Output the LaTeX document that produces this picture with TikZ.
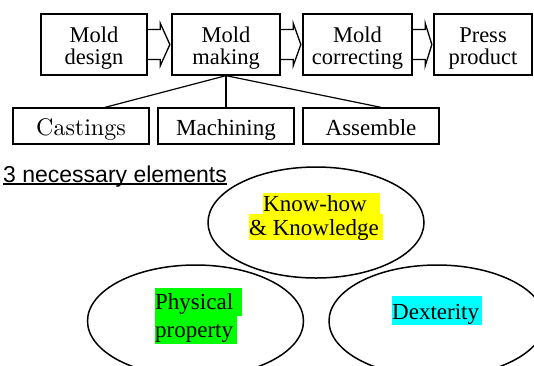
\documentclass[tikz,border=0pt]{standalone}
\usepackage{fontspec}
\setmainfont{Liberation Serif}
\newfontfamily\arialf{Liberation Sans}
\newfontfamily\lmr[Extension=.otf]{lmroman10-regular}
\usetikzlibrary{shapes.geometric,calc}
\definecolor{hlyellow}{RGB}{255,255,0}
\definecolor{hlgreen}{RGB}{0,255,0}
\definecolor{hlcyan}{RGB}{0,255,255}
\newcommand\hollowarrow[2]{%
  \draw[blockarrow] ($(#1.east)+(0,-15)$) -- ($(#1.east)+(12.5,-15)$) -- ($(#1.east)+(12.5,-21.5)$)
    -- ($(#2.west)+(-1.5,0)$) -- ($(#1.east)+(12.5,21.5)$) -- ($(#1.east)+(12.5,15)$) -- ($(#1.east)+(0,15)$);}
\begin{document}
\begin{tikzpicture}[x=1pt,y=-1pt,
  procbox/.style={draw, line width=1.3pt, inner sep=0pt, minimum height=61pt, align=center,
    font=\fontsize{22.5}{21.5}\selectfont},
  subbox/.style={draw, line width=1.3pt, inner sep=0pt, minimum height=36pt, minimum width=136pt,
    font=\fontsize{23}{27}\selectfont, text height=23pt, text depth=5pt},
  blockarrow/.style={draw, line width=1.3pt, line join=miter},
  link/.style={draw, line width=1.2pt},
  elem/.style={ellipse, draw, line width=1.5pt, inner sep=0pt},
  hl/.style={inner sep=0pt, anchor=north west, font=\fontsize{23}{27}\selectfont},
]
\clip (0,0) rectangle (534,365);
\fill[white] (0,0) rectangle (534,365);

% process row
\node[procbox, minimum width=106pt] (b1) at (94,44.5) {\rule{0pt}{22.4pt}Mold\\design};
\node[procbox, minimum width=108pt] (b2) at (226,44.5) {\rule{0pt}{22.4pt}Mold\\making};
\node[procbox, minimum width=109pt] (b3) at (357.5,44.5) {\rule{0pt}{22.4pt}Mold\\correcting};
\node[procbox, minimum width=98pt] (b4) at (483,44.5) {\rule{0pt}{22.4pt}Press\\product};
\hollowarrow{b1}{b2}
\hollowarrow{b2}{b3}
\hollowarrow{b3}{b4}

% sub steps
\node[subbox, font=\lmr\fontsize{24}{28}\selectfont] (c1) at (81,126) {Castings};
\node[subbox] (c2) at (226,126) {Machining};
\node[subbox] (c3) at (371,126) {Assemble};
\draw[link] (b2.south) -- ($(c1.north)+(24,0)$);
\draw[link] (b2.south) -- (b2.south |- c2.north);
\draw[link] (b2.south) -- ($(c3.north)+(10,0)$);

% heading
\node[anchor=base west, inner sep=0pt, font=\arialf\fontsize{23}{27}\selectfont] (head) at (3,182.4) {3 necessary elements};
\draw[line width=1.4pt] ([yshift=-1.6pt]head.base west) -- ([yshift=-1.6pt]head.base east);

% elements
\node[elem, minimum width=216pt, minimum height=111pt] (e1) at (316,222.5) {};
\node[elem, minimum width=216pt, minimum height=112pt] (e2) at (195.5,321) {};
\node[elem, minimum width=216pt, minimum height=112pt] (e3) at (437,321) {};

\node[hl, fill=hlyellow, text height=18pt, text depth=3pt] (k1) at (263,193) {\makebox[117pt][l]{Know-how}};
\node[hl, fill=hlyellow, text height=21pt, text depth=5pt] (k2) at (249,214) {\makebox[134pt][l]{\& Knowledge}};
\node[hl, fill=hlgreen, text height=21.3pt, text depth=6.7pt] (p1) at (155,288) {\makebox[87pt][l]{Physical}};
\node[hl, fill=hlgreen, text height=21.7pt, text depth=6.3pt] (p2) at (155,316) {\makebox[82pt][l]{property}};
\node[hl, fill=hlcyan, text height=23pt, text depth=6pt] (d1) at (392,296) {\makebox[90pt][l]{Dexterity}};
\end{tikzpicture}
\end{document}
